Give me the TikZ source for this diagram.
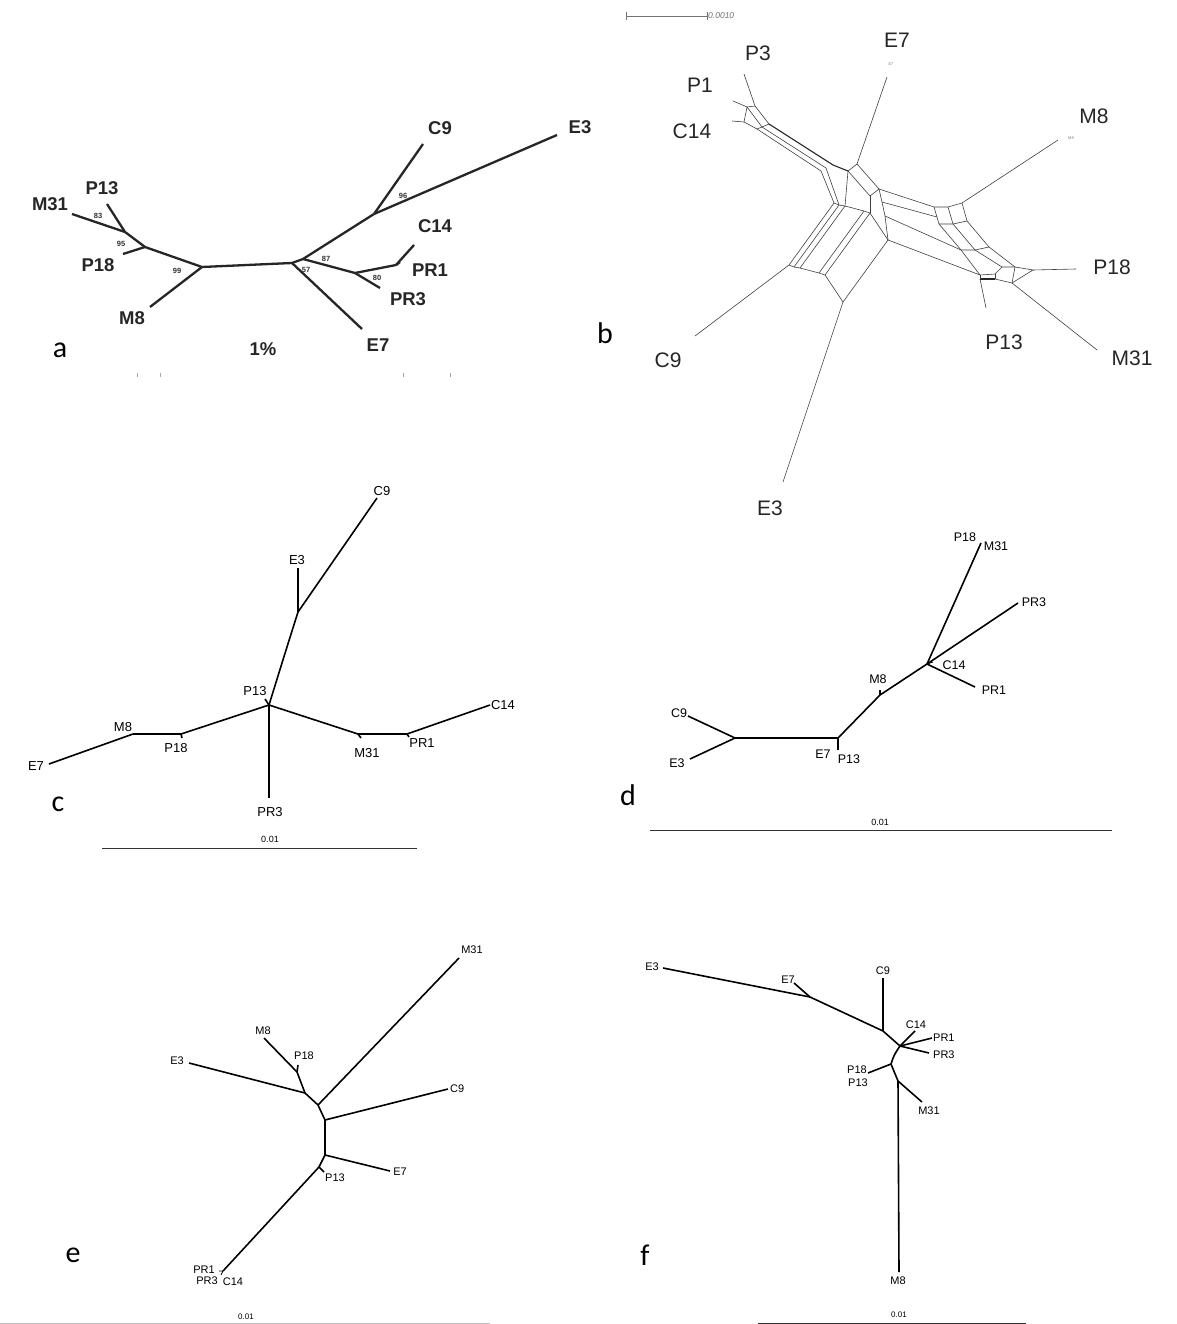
\documentclass[tikz,border=0pt]{standalone}
\usepackage{fontspec}
\setmainfont{Liberation Sans}
\newfontfamily\calfont{Carlito}
\begin{document}
\begin{tikzpicture}[x=1pt,y=-1pt]
\tikzset{
  every node/.style={inner sep=0pt},
  labA/.style={font=\fontsize{18.5}{20}\selectfont\bfseries, text=black!85},
  numA/.style={font=\fontsize{7.5}{8}\selectfont\bfseries, text=black!80},
  labB/.style={font=\fontsize{21}{24}\selectfont, text=black!85},
  tinyB/.style={font=\fontsize{4}{5}\selectfont, text=black!50},
  labC/.style={font=\fontsize{13}{15}\selectfont},
  labD/.style={font=\fontsize{12.5}{14}\selectfont},
  labE/.style={font=\fontsize{11}{13}\selectfont},
  scl/.style={font=\fontsize{9}{10}\selectfont},
  panl/.style={font=\calfont\fontsize{30}{34}\selectfont},
  edgA/.style={line width=2.3pt, black!85},
  edgT/.style={line width=1.6pt},
  edgN/.style={line width=0.6pt, black!75},
  barS/.style={line width=1pt, black!80},
}
\useasboundingbox (0,0) rectangle (1176,1324);
\fill[white] (0,0) rectangle (1176,1324);

% ================= panel a =================
\coordinate (aM31) at (72,214);
\coordinate (aP13) at (107,204);
\coordinate (an1) at (125,232);
\coordinate (an2) at (145,247);
\coordinate (aP18) at (123,254);
\coordinate (an3) at (202,267);
\coordinate (aM8) at (150,307);
\coordinate (an4) at (292,263);
\coordinate (an5) at (303,259);
\coordinate (aE7) at (362,329);
\coordinate (an6) at (374,214);
\coordinate (aC9) at (423,144);
\coordinate (aE3) at (557,135);
\coordinate (an7) at (355,273);
\coordinate (aPR3) at (380,288);
\coordinate (an8) at (396,265);
\coordinate (aC14) at (414,245);
\coordinate (aPR1) at (400,262);
\draw[edgA] (aM31) -- (an1);
\draw[edgA] (aP13) -- (an1);
\draw[edgA] (an1) -- (an2);
\draw[edgA] (aP18) -- (an2);
\draw[edgA] (an2) -- (an3);
\draw[edgA] (aM8) -- (an3);
\draw[edgA] (an3) -- (an4);
\draw[edgA] (an4) -- (an5);
\draw[edgA] (an4) -- (aE7);
\draw[edgA] (an5) -- (an6);
\draw[edgA] (an6) -- (aC9);
\draw[edgA] (an6) -- (aE3);
\draw[edgA] (an5) -- (an7);
\draw[edgA] (an7) -- (aPR3);
\draw[edgA] (an7) -- (an8);
\draw[edgA] (an8) -- (aC14);
\draw[edgA] (an8) -- (aPR1);
\node[labA] (aM31l) at (50,204) {M31};
\node[labA] (aP13l) at (102,188) {P13};
\node[labA] (aP18l) at (98,265) {P18};
\node[labA] (aM8l) at (132,318) {M8};
\node[labA] (aC9l) at (440,128) {C9};
\node[labA] (aE3l) at (580,127) {E3};
\node[labA] (aC14l) at (435,226) {C14};
\node[labA] (aPR1l) at (430,270) {PR1};
\node[labA] (aPR3l) at (408,299) {PR3};
\node[labA] (aE7l) at (378,345) {E7};
\node[labA] (aPct) at (263,349) {1\%};
\node[numA] (a83) at (98,216) {83};
\node[numA] (a95) at (121,244) {95};
\node[numA] (a99) at (177,271) {99};
\node[numA] (a87) at (326,259) {87};
\node[numA] (a57) at (306,270) {57};
\node[numA] (a96) at (403,196) {96};
\node[numA] (a80) at (377,278) {80};
\node[panl] (aLet) at (60,350) {a};
\draw[black!35, line width=0.8pt] (137,373) -- (137,377) (160,373) -- (160,377) (403,373) -- (403,377) (450,373) -- (450,377);

% ================= panel b =================
\coordinate (bSa) at (626,16);
\coordinate (bSb) at (707,16);
\draw[black!55, line width=0.7pt] (bSa) -- (bSb);
\draw[black!55, line width=0.7pt] (626,12) -- (626,20) (707,12) -- (707,20);
\node[font=\fontsize{8.5}{9}\selectfont\itshape, text=black!55, anchor=west] (bSl) at (708,16) {0.0010};

\coordinate (bP3e) at (744,74);
\coordinate (bP3n) at (755,106);
\coordinate (bP1e) at (733,101);
\coordinate (bP1n) at (747,107);
\coordinate (bC14e) at (732,121);
\coordinate (bC14n) at (744,122);
\coordinate (bU1) at (769,124);
\coordinate (bU2) at (762,127);
\coordinate (bU3) at (757,129);
\coordinate (bM1) at (833,165);
\coordinate (bM2) at (826,168);
\coordinate (bM3) at (821,171);
\coordinate (bA) at (848,171);
\coordinate (bE) at (857,164);
\coordinate (bE7e) at (887,77);
\coordinate (bB) at (879,189);
\coordinate (bC) at (870,196);
\coordinate (bT1) at (834,203);
\coordinate (bT2) at (839,205);
\coordinate (bT3) at (845,206);
\coordinate (bT4) at (864,211);
\coordinate (bT5) at (870,213);
\coordinate (bT6) at (888,240);
\coordinate (bB1) at (789,265);
\coordinate (bB2) at (794,267);
\coordinate (bB3) at (800,268);
\coordinate (bB4) at (819,273);
\coordinate (bB5) at (825,275);
\coordinate (bB6) at (843,302);
\coordinate (bC9e) at (695,336);
\coordinate (bE3e) at (783,482);
\coordinate (bS2) at (882,202);
\coordinate (bS3) at (885,216);
\coordinate (bK0) at (934,207);
\coordinate (bK1) at (948,207);
\coordinate (bK2) at (962,203);
\coordinate (bM8e) at (1058,140);
\coordinate (bL0) at (939,224);
\coordinate (bL1) at (953,224);
\coordinate (bL2) at (967,221);
\coordinate (bS2r) at (937,217);
\coordinate (bF1) at (961,250);
\coordinate (bF2) at (975,250);
\coordinate (bF3) at (989,247);
\coordinate (bQ1) at (980,275);
\coordinate (bQ2) at (995,274);
\coordinate (bQ3) at (1002,267);
\coordinate (bQ4) at (1015,267);
\coordinate (bP) at (1033,270);
\coordinate (bQ5) at (1012,283);
\coordinate (bQ6) at (995,279);
\coordinate (bQ7) at (980,279);
\coordinate (bP18e) at (1076,269);
\coordinate (bM31e) at (1097,350);
\coordinate (bP13e) at (986,308);

% leaves
\draw[edgN] (bP3e) -- (bP3n);
\draw[edgN] (bP1e) -- (bP1n);
\draw[edgN] (bC14e) -- (bC14n);
\draw[edgN] (bE) -- (bE7e);
\draw[edgN] (bB1) -- (bC9e);
\draw[edgN] (bB6) -- (bE3e);
\draw[edgN] (bK2) -- (bM8e);
\draw[edgN] (bP) -- (bP18e);
\draw[edgN] (bQ5) -- (bM31e);
\draw[edgN] (bQ7) -- (bP13e);
% left cluster
\draw[edgN] (bP3n) -- (bP1n) -- (bC14n);
\draw[edgN] (bP3n) -- (bU1);
\draw[edgN] (bP1n) -- (bU2);
\draw[edgN] (bC14n) -- (bU3);
\draw[edgN] (bU1) -- (bU2) -- (bU3);
% upper-left arm
\draw[line width=1.1pt, black!85] (bU1) -- (bM1) -- (bA);
\draw[edgN] (bU2) -- (bM2) -- (bT2);
\draw[edgN] (bU3) -- (bM3) -- (bT1);
% hub
\draw[edgN] (bA) -- (bE) -- (bB) -- (bC) -- (bA);
\draw[edgN] (bA) -- (bT3);
\draw[edgN] (bC) -- (bT5);
% lower-left arm
\draw[edgN] (bT1) -- (bT2) -- (bT3) -- (bT4) -- (bT5) -- (bT6);
\draw[edgN] (bB1) -- (bB2) -- (bB3) -- (bB4) -- (bB5) -- (bB6);
\draw[edgN] (bT1) -- (bB1);
\draw[edgN] (bT2) -- (bB2);
\draw[edgN] (bT3) -- (bB3);
\draw[edgN] (bT4) -- (bB4);
\draw[edgN] (bT5) -- (bB5);
\draw[edgN] (bT6) -- (bB6);
% right arm
\draw[edgN] (bB) -- (bS2) -- (bS3) -- (bT6);
\draw[edgN] (bB) -- (bK0);
\draw[edgN] (bS2) -- (bS2r);
\draw[edgN] (bS3) -- (bF1);
\draw[edgN] (bT6) -- (bQ1);
% M8 box
\draw[edgN] (bK0) -- (bK1) -- (bK2);
\draw[edgN] (bL0) -- (bL1) -- (bL2);
\draw[edgN] (bK0) -- (bL0);
\draw[edgN] (bK1) -- (bL1);
\draw[edgN] (bK2) -- (bL2);
\draw[edgN] (bL0) -- (bF1);
\draw[edgN] (bL1) -- (bF2);
\draw[edgN] (bL2) -- (bF3);
\draw[edgN] (bF1) -- (bF2) -- (bF3);
% right cluster
\draw[edgN] (bF1) -- (bQ1);
\draw[edgN] (bF2) -- (bQ3);
\draw[edgN] (bF3) -- (bQ4);
\draw[edgN] (bQ1) -- (bQ2) -- (bQ3) -- (bQ4) -- (bP) -- (bQ5) -- (bQ6) -- (bQ7);
\draw[line width=1.1pt, black!85] (bQ7) -- (bQ6);
\draw[edgN] (bQ1) -- (bQ7);
\draw[edgN] (bQ2) -- (bQ6);
\draw[edgN] (bQ4) -- (bQ5);

\node[labB] (bP3l) at (758,53) {P3};
\node[labB] (bP1l) at (700,85) {P1};
\node[labB] (bC14l) at (692,131) {C14};
\node[labB] (bE7l) at (897,40) {E7};
\node[tinyB] (bE7s) at (891,64) {E7};
\node[labB] (bM8l) at (1094,116) {M8};
\node[tinyB] (bM8s) at (1071,138) {M8};
\node[labB] (bP18l) at (1112,267) {P18};
\node[labB] (bP13l) at (1004,342) {P13};
\node[labB] (bM31l) at (1132,358) {M31};
\node[labB] (bC9l) at (668,360) {C9};
\node[labB] (bE3l) at (770,508) {E3};
\node[panl] (bLet) at (605,333) {b};

% ================= panel c =================
\coordinate (cC9) at (377,498);
\coordinate (cn1) at (298,612);
\coordinate (cE3) at (298,568);
\coordinate (cR) at (269,705);
\coordinate (cP13) at (265,699);
\coordinate (cPR3) at (269,798);
\coordinate (cP18n) at (181,734);
\coordinate (cP18) at (182,738);
\coordinate (cM8n) at (133,734);
\coordinate (cE7) at (49,764);
\coordinate (cM31n) at (358,734);
\coordinate (cM31) at (361,738);
\coordinate (cPR1n) at (407,734);
\coordinate (cPR1) at (409,737);
\coordinate (cC14) at (490,705);
\draw[edgT] (cC9) -- (cn1);
\draw[edgT] (cE3) -- (cn1);
\draw[edgT] (cn1) .. controls (286,650) .. (cR);
\draw[edgT] (cR) -- (cP13);
\draw[edgT] (cR) -- (cPR3);
\draw[edgT] (cR) -- (cP18n);
\draw[edgT] (cP18n) -- (cP18);
\draw[edgT] (cP18n) -- (cM8n);
\draw[edgT] (cM8n) -- (cE7);
\draw[edgT] (cR) -- (cM31n);
\draw[edgT] (cM31n) -- (cM31);
\draw[edgT] (cM31n) -- (cPR1n);
\draw[edgT] (cPR1n) -- (cPR1);
\draw[edgT] (cPR1n) -- (cC14);
\node[labC] (cC9l) at (382,491) {C9};
\node[labC] (cE3l) at (297,560) {E3};
\node[labC] (cP13l) at (255,691) {P13};
\node[labC] (cPR3l) at (270,812) {PR3};
\node[labC] (cP18l) at (176,748) {P18};
\node[labC] (cM8l) at (123,727) {M8};
\node[labC] (cE7l) at (36,766) {E7};
\node[labC] (cM31l) at (367,753) {M31};
\node[labC] (cPR1l) at (422,743) {PR1};
\node[labC] (cC14l) at (503,705) {C14};
\node[panl] (cLet) at (58,804) {c};
\node[scl] (cSl) at (270,839) {0.01};
\coordinate (cSa) at (102,848);
\coordinate (cSb) at (417,848);
\draw[barS] (cSa) -- (cSb);

% ================= panel d =================
\coordinate (dX) at (927,664);
\coordinate (dM31) at (981,543);
\coordinate (dPR3) at (1018,603);
\coordinate (dPR1) at (975,687);
\coordinate (dC14) at (933,662);
\coordinate (dC14b) at (933,667);
\coordinate (dM8n) at (880,695);
\coordinate (dM8) at (880,690);
\coordinate (dE7n) at (838,738);
\coordinate (dE7) at (838,750);
\coordinate (dY) at (735,738);
\coordinate (dC9) at (688,716);
\coordinate (dE3) at (690,759);
\draw[edgT] (dX) -- (dM31);
\draw[edgT] (dX) -- (dPR3);
\draw[edgT] (dX) -- (dPR1);
\draw[line width=0.8pt] (dC14) -- (dX) -- (dC14b);
\draw[edgT] (dX) -- (dM8n);
\draw[edgT] (dM8n) -- (dM8);
\draw[edgT] (dM8n) -- (dE7n);
\draw[edgT] (dE7n) -- (dE7);
\draw[edgT] (dE7n) -- (dY);
\draw[edgT] (dY) -- (dC9);
\draw[edgT] (dY) -- (dE3);
\node[labD] (dP18l) at (965,537) {P18};
\node[labD] (dM31l) at (996,546) {M31};
\node[labD] (dPR3l) at (1034,602) {PR3};
\node[labD] (dC14l) at (954,665) {C14};
\node[labD] (dPR1l) at (994,690) {PR1};
\node[labD] (dM8l) at (878,679) {M8};
\node[labD] (dE7l) at (823,754) {E7};
\node[labD] (dP13l) at (849,759) {P13};
\node[labD] (dC9l) at (679,713) {C9};
\node[labD] (dE3l) at (677,763) {E3};
\node[panl] (dLet) at (628,795) {d};
\node[scl] (dSl) at (880,822) {0.01};
\coordinate (dSa) at (650,830);
\coordinate (dSb) at (1112,830);
\draw[barS] (dSa) -- (dSb);

% ================= panel e =================
\coordinate (eM31) at (459,958);
\coordinate (ea) at (305,1093);
\coordinate (eb) at (318,1105);
\coordinate (ec) at (325,1120);
\coordinate (ed) at (325,1155);
\coordinate (ef) at (319,1167);
\coordinate (eE3) at (189,1063);
\coordinate (eM8) at (264,1038);
\coordinate (eP18n) at (297,1072);
\coordinate (eP18) at (298,1065);
\coordinate (eC9) at (448,1089);
\coordinate (eE7) at (390,1171);
\coordinate (eP13) at (324,1172);
\coordinate (eCl) at (223,1271);
\coordinate (eCla) at (219,1271);
\coordinate (eClb) at (221,1275);
\draw[edgT] (eE3) -- (ea);
\draw[edgT] (eM8) -- (eP18n);
\draw[edgT] (eP18n) -- (eP18);
\draw[edgT] (eP18n) -- (ea);
\draw[edgT] (ea) -- (eb);
\draw[edgT] (eb) -- (eM31);
\draw[edgT] (eb) -- (ec);
\draw[edgT] (ec) -- (eC9);
\draw[edgT] (ec) -- (ed);
\draw[edgT] (ed) -- (eE7);
\draw[edgT] (ed) -- (ef);
\draw[edgT] (ef) -- (eP13);
\draw[edgT] (ef) -- (eCl);
\draw[line width=0.8pt] (eCla) -- (eCl) -- (eClb);
\node[labE] (eM31l) at (472,950) {M31};
\node[labE] (eE3l) at (177,1061) {E3};
\node[labE] (eM8l) at (263,1031) {M8};
\node[labE] (eP18l) at (304,1056) {P18};
\node[labE, anchor=west] (eC9l) at (450,1089) {C9};
\node[labE] (eE7l) at (400,1172) {E7};
\node[labE] (eP13l) at (335,1178) {P13};
\node[labE] (ePR1l) at (204,1270) {PR1};
\node[labE] (ePR3l) at (207,1281) {PR3};
\node[labE] (eC14l) at (233,1282) {C14};
\node[panl] (eLet) at (73,1255) {e};
\node[font=\fontsize{8}{9}\selectfont] (eSl) at (246,1317) {0.01};
\coordinate (eSa) at (0,1323);
\coordinate (eSb) at (490,1323);
\draw[black!25, line width=0.8pt] (eSa) -- (eSb);

% ================= panel f =================
\coordinate (fE3) at (663,968);
\coordinate (fE7n) at (810,997);
\coordinate (fE7) at (794,983);
\coordinate (fC9n) at (883,1031);
\coordinate (fC9) at (883,978);
\coordinate (fX) at (900,1046);
\coordinate (fC14) at (915,1031);
\coordinate (fPR1) at (932,1038);
\coordinate (fPR3) at (929,1053);
\coordinate (fY) at (891,1064);
\coordinate (fP) at (868,1073);
\coordinate (fZ) at (898,1081);
\coordinate (fM31) at (922,1102);
\coordinate (fM8) at (899,1272);
\draw[edgT] (fE3) -- (fE7n);
\draw[edgT] (fE7n) -- (fE7);
\draw[edgT] (fE7n) -- (fC9n);
\draw[edgT] (fC9n) -- (fC9);
\draw[edgT] (fC9n) -- (fX);
\draw[edgT] (fX) -- (fC14);
\draw[edgT] (fX) -- (fPR1);
\draw[edgT] (fX) -- (fPR3);
\draw[edgT] (fX) .. controls (894,1055) .. (fY);
\draw[edgT] (fY) -- (fP);
\draw[edgT] (fY) -- (fZ);
\draw[edgT] (fZ) -- (fM31);
\draw[edgT] (fZ) -- (fM8);
\node[labE] (fE3l) at (652,967) {E3};
\node[labE] (fE7l) at (788,980) {E7};
\node[labE] (fC9l) at (883,971) {C9};
\node[labE] (fC14l) at (916,1025) {C14};
\node[labE, anchor=west] (fPR1l) at (933,1038) {PR1};
\node[labE, anchor=west] (fPR3l) at (933,1055) {PR3};
\node[labE] (fP18l) at (857,1070) {P18};
\node[labE] (fP13l) at (858,1083) {P13};
\node[labE] (fM31l) at (929,1111) {M31};
\node[labE] (fM8l) at (898,1281) {M8};
\node[panl] (fLet) at (645,1255) {f};
\node[font=\fontsize{8}{9}\selectfont] (fSl) at (899,1315) {0.01};
\coordinate (fSa) at (758,1323);
\coordinate (fSb) at (1026,1323);
\draw[barS] (fSa) -- (fSb);
\end{tikzpicture}
\end{document}
